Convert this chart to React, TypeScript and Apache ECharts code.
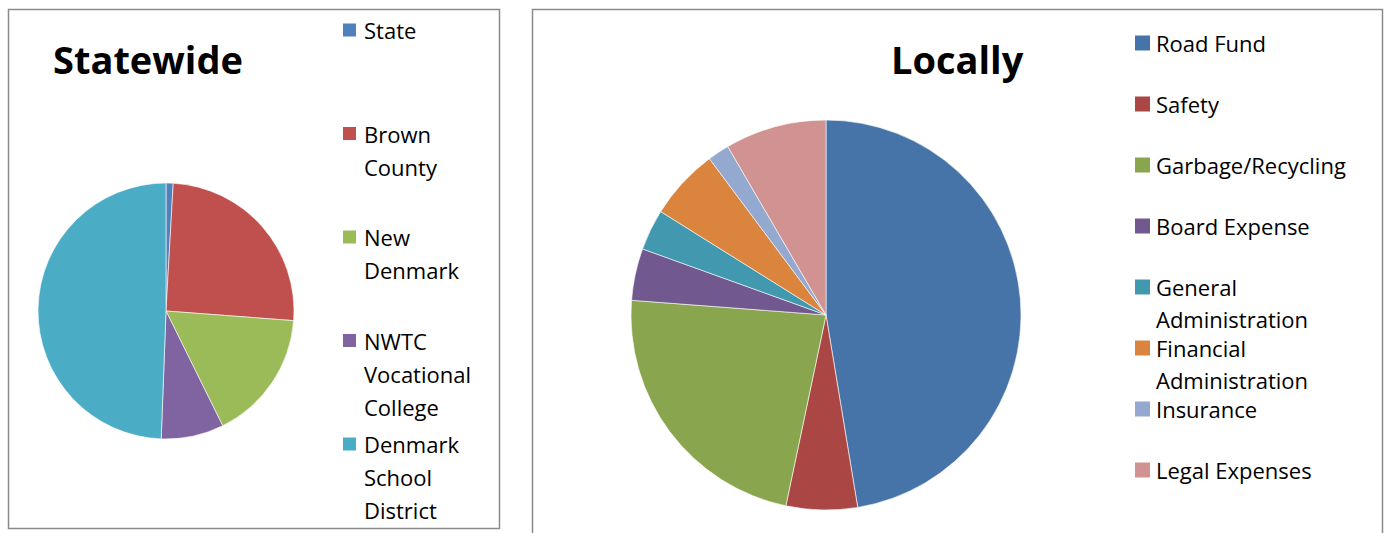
import React, { useEffect, useRef } from "react";
import * as echarts from "echarts";

const stateCategories = ["State", "Brown County", "New Denmark", "NWTC Vocational College", "Denmark School District"];
const stateLegendLines = [["State"], ["Brown", "County"], ["New", "Denmark"], ["NWTC", "Vocational", "College"], ["Denmark", "School", "District"]];
const stateValues = [0.9, 25.3, 16.5, 7.9, 49.4];
const stateColors = ["#4F81BD", "#C0504D", "#9BBB59", "#8064A2", "#4BACC6"];

const localCategories = ["Road Fund", "Safety", "Garbage/Recycling", "Board Expense", "General Administration", "Financial Administration", "Insurance", "Legal Expenses"];
const localLegendLines = [["Road Fund"], ["Safety"], ["Garbage/Recycling"], ["Board Expense"], ["General", "Administration"], ["Financial", "Administration"], ["Insurance"], ["Legal Expenses"]];
const localValues = [47.4, 5.9, 22.9, 4.3, 3.4, 5.9, 1.8, 8.4];
const localColors = ["#4673A8", "#AA4744", "#89A54E", "#71588F", "#4198AF", "#DB843D", "#93A9CF", "#D19392"];

const FONT = "'Open Sans', Lato, sans-serif";

export default function App() {
  const ref = useRef<HTMLDivElement>(null);
  useEffect(() => {
    if (!ref.current) return;
    const chart = echarts.init(ref.current, null, { renderer: "svg" });
    const graphics: any[] = [];
    // boxes
    graphics.push({ type: "rect", shape: { x: 8.5, y: 9.5, width: 491, height: 519 }, style: { fill: "none", stroke: "#8a8a8a", lineWidth: 1.5 }, silent: true });
    graphics.push({ type: "rect", shape: { x: 532.5, y: 9.5, width: 850, height: 560 }, style: { fill: "none", stroke: "#8a8a8a", lineWidth: 1.5 }, silent: true });
    // titles
    graphics.push({ type: "text", x: 53, y: 59, style: { text: "Statewide", font: `bold 38px ${FONT}`, fill: "#000", textVerticalAlign: "middle" } });
    graphics.push({ type: "text", x: 891, y: 59, style: { text: "Locally", font: `bold 38px ${FONT}`, fill: "#000", textVerticalAlign: "middle" } });
    // left legend
    const lh1 = 33;
    stateLegendLines.forEach((lines, i) => {
      const cy = 30 + i * 103.5;
      graphics.push({ type: "rect", shape: { x: 343, y: cy - 6.5, width: 13, height: 13 }, style: { fill: stateColors[i] } });
      graphics.push({ type: "text", x: 364, y: cy - lh1 / 2, style: { text: lines.join("\n"), font: `22px ${FONT}`, fill: "#000", lineHeight: lh1, textVerticalAlign: "top" } });
    });
    const lh2 = 32;
    localLegendLines.forEach((lines, i) => {
      const cy = 43 + i * 61;
      graphics.push({ type: "rect", shape: { x: 1135, y: cy - 7.5, width: 15, height: 15 }, style: { fill: localColors[i] } });
      graphics.push({ type: "text", x: 1156, y: cy - lh2 / 2, style: { text: lines.join("\n"), font: `22px ${FONT}`, fill: "#000", lineHeight: lh2, textVerticalAlign: "top" } });
    });

    chart.setOption({
      animation: false,
      backgroundColor: "#fff",
      graphic: graphics,
      series: [
        {
          type: "pie",
          center: [166, 311],
          radius: 128,
          startAngle: 90,
          clockwise: true,
          silent: true,
          label: { show: false },
          labelLine: { show: false },
          itemStyle: { borderColor: "#fff", borderWidth: 0.6 },
          data: stateCategories.map((n, i) => ({ name: n, value: stateValues[i], itemStyle: { color: stateColors[i] } })),
        },
        {
          type: "pie",
          center: [826, 315],
          radius: 195,
          startAngle: 90,
          clockwise: true,
          silent: true,
          label: { show: false },
          labelLine: { show: false },
          itemStyle: { borderColor: "#fff", borderWidth: 0.6 },
          data: localCategories.map((n, i) => ({ name: n, value: localValues[i], itemStyle: { color: localColors[i] } })),
        },
      ],
    });
    return () => chart.dispose();
  }, []);
  return <div ref={ref} style={{ position: "fixed", left: 0, top: 0, width: 1388, height: 533 }} />;
}
